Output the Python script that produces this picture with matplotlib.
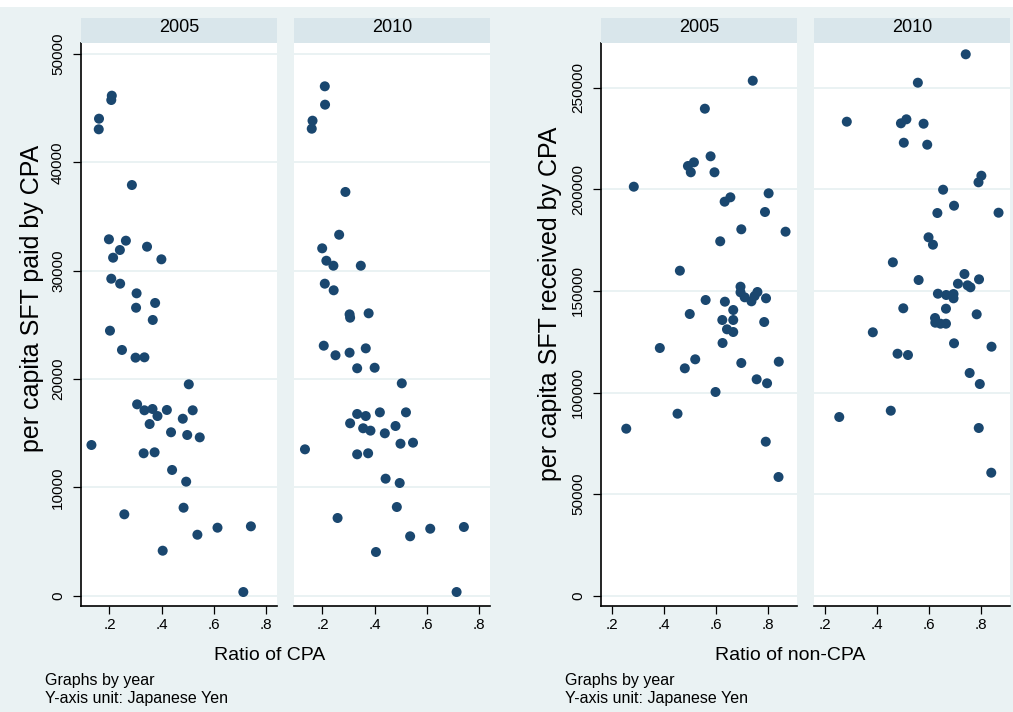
import matplotlib.pyplot as plt
from matplotlib.patches import Rectangle

plt.rcParams['font.family'] = ['Liberation Sans', 'DejaVu Sans']

W, H = 1013, 712

years = ['2005', '2010']

# per capita SFT paid by CPA vs ratio of CPA
cpa_ratio_2005 = [0.209, 0.207, 0.160, 0.159, 0.286, 0.198, 0.263, 0.240, 0.344, 0.214,
                  0.399, 0.207, 0.241, 0.304, 0.375, 0.302, 0.366, 0.202, 0.248, 0.300,
                  0.334, 0.504, 0.306, 0.334, 0.365, 0.384, 0.420, 0.481, 0.519, 0.354,
                  0.436, 0.498, 0.546, 0.131, 0.331, 0.373, 0.440, 0.494, 0.484, 0.257,
                  0.537, 0.614, 0.742, 0.404, 0.713]
paid_2005 = [46170, 45770, 44045, 43065, 37920, 32910, 32780, 31920, 32225, 31210,
             31060, 29270, 28810, 27920, 27030, 26590, 25460, 24470, 22690, 21980,
             22010, 19520, 17670, 17120, 17240, 16590, 17150, 16340, 17120, 15850,
             15090, 14840, 14620, 13915, 13150, 13240, 11610, 10530, 8125, 7515,
             5630, 6280, 6405, 4155, 340]

cpa_ratio_2010 = [0.209, 0.210, 0.162, 0.159, 0.288, 0.264, 0.199, 0.215, 0.242, 0.347,
                  0.209, 0.243, 0.304, 0.306, 0.377, 0.205, 0.250, 0.304, 0.366, 0.333,
                  0.400, 0.504, 0.333, 0.366, 0.420, 0.520, 0.306, 0.356, 0.384, 0.439,
                  0.480, 0.499, 0.547, 0.133, 0.333, 0.375, 0.442, 0.496, 0.485, 0.258,
                  0.536, 0.613, 0.742, 0.405, 0.714]
paid_2010 = [47035, 45340, 43860, 43120, 37280, 33330, 32075, 30930, 30470, 30470,
             28810, 28200, 25980, 25670, 26075, 23085, 22200, 22440, 22840, 21000,
             21050, 19610, 16780, 16590, 16930, 16930, 15920, 15460, 15240, 14995,
             15670, 14035, 14130, 13515, 13055, 13150, 10805, 10405, 8190, 7175,
             5485, 6185, 6345, 4035, 340]

# per capita SFT received by CPA vs ratio of non-CPA
noncpa_ratio_2005 = [0.741, 0.557, 0.579, 0.492, 0.515, 0.503, 0.594, 0.284, 0.802, 0.633,
                     0.655, 0.788, 0.697, 0.867, 0.616, 0.461, 0.694, 0.694, 0.710, 0.736,
                     0.759, 0.748, 0.792, 0.560, 0.634, 0.499, 0.666, 0.624, 0.666, 0.785,
                     0.642, 0.666, 0.625, 0.384, 0.520, 0.480, 0.697, 0.841, 0.756, 0.796,
                     0.598, 0.452, 0.255, 0.791, 0.840]
received_2005 = [253440, 239665, 216240, 211470, 213290, 208370, 208370, 201280, 198030, 193900,
                 196060, 188830, 180315, 179140, 174410, 159940, 152070, 149300, 146850, 144880,
                 149460, 147490, 146360, 145520, 144690, 138630, 140600, 135680, 135680, 134690,
                 131100, 129770, 124360, 121900, 116330, 111900, 114520, 115160, 106500, 104530,
                 100250, 89570, 82190, 75790, 58420]

noncpa_ratio_2010 = [0.741, 0.557, 0.284, 0.492, 0.513, 0.579, 0.503, 0.593, 0.801, 0.790,
                     0.654, 0.696, 0.632, 0.867, 0.598, 0.615, 0.461, 0.736, 0.560, 0.711,
                     0.748, 0.759, 0.792, 0.634, 0.666, 0.694, 0.694, 0.501, 0.665, 0.783,
                     0.623, 0.624, 0.644, 0.665, 0.384, 0.696, 0.479, 0.519, 0.840, 0.756,
                     0.795, 0.453, 0.255, 0.791, 0.839]
received_2010 = [266440, 252460, 233270, 232480, 234450, 232280, 222930, 221950, 206690, 203440,
                 199800, 191930, 188330, 188480, 176380, 172740, 164070, 158310, 155360, 153540,
                 152750, 151770, 155700, 148620, 147980, 148470, 146350, 141440, 141240, 138480,
                 136660, 134350, 133860, 133860, 129630, 124210, 119090, 118450, 122540, 109600,
                 104180, 91040, 87940, 82530, 60530]

x_ticks = [0.2, 0.4, 0.6, 0.8]
x_tick_labels = ['.2', '.4', '.6', '.8']
paid_ticks = [0, 10000, 20000, 30000, 40000, 50000]
received_ticks = [0, 50000, 100000, 150000, 200000, 250000]

navy = '#1A476F'
bg = '#EAF2F3'
strip = '#D9E6EB'


def box(l, t, r, b):
    return [l / W, 1 - b / H, (r - l) / W, (b - t) / H]


fig = plt.figure(figsize=(W / 100, H / 100), dpi=100)
fig.patches.append(Rectangle((0, 0), 1, 1 - 7 / H, transform=fig.transFigure,
                             facecolor=bg, edgecolor='none', zorder=-10))

graphs = [
    dict(left=81, xs=[cpa_ratio_2005, cpa_ratio_2010], ys=[paid_2005, paid_2010],
         yticks=paid_ticks, ylim=(-951, 51034), xlim=(0.091, 0.842),
         ytitle='per capita SFT paid by CPA', xtitle='Ratio of CPA',
         ytitle_x=32, ytitle_y=298, xtitle_x=270),
    dict(left=601, xs=[noncpa_ratio_2005, noncpa_ratio_2010], ys=[received_2005, received_2010],
         yticks=received_ticks, ylim=(-5070, 272000), xlim=(0.158, 0.911),
         ytitle='per capita SFT received by CPA', xtitle='Ratio of non-CPA',
         ytitle_x=550, ytitle_y=304, xtitle_x=790),
]

for g in graphs:
    for k in range(2):
        l = g['left'] + k * 213
        r = l + 196
        ax = fig.add_axes(box(l, 43, r, 606))
        ax.set_facecolor('white')
        ax.scatter(g['xs'][k], g['ys'][k], s=52, color=navy, edgecolors='none', zorder=3)
        ax.set_xlim(*g['xlim'])
        ax.set_ylim(*g['ylim'])
        ax.set_xticks(x_ticks)
        ax.set_xticklabels(x_tick_labels)
        ax.set_yticks(g['yticks'])
        ax.set_yticklabels([str(v) for v in g['yticks']], rotation=90, va='center')
        ax.grid(axis='y', color=bg, linewidth=1.4)
        ax.set_axisbelow(True)
        for side in ['top', 'right']:
            ax.spines[side].set_visible(False)
        ax.spines['bottom'].set_linewidth(1.2)
        ax.spines['left'].set_linewidth(1.2)
        ax.tick_params(axis='x', length=5.5, width=0.9, pad=3, labelsize=11)
        if k == 0:
            ax.tick_params(axis='y', length=5.5, width=0.9, pad=6, labelsize=11)
        else:
            ax.spines['left'].set_visible(False)
            ax.tick_params(axis='y', left=False, labelleft=False)
        fig.patches.append(Rectangle((l / W, 1 - 43 / H), (r - l) / W, 25 / H,
                                     transform=fig.transFigure, facecolor=strip,
                                     edgecolor='none'))
        fig.text((l + r) / 2 / W, 1 - 28 / H, years[k], ha='center', va='center', fontsize=13)

    fig.text(g['ytitle_x'] / W, 1 - g['ytitle_y'] / H, g['ytitle'], rotation=90,
             ha='center', va='center', fontsize=18)
    fig.text(g['xtitle_x'] / W, 1 - 655 / H, g['xtitle'], ha='center', va='center', fontsize=14)
    fig.text((g['left'] - 36) / W, 1 - 680 / H, 'Graphs by year', ha='left', va='center',
             fontsize=11.5)
    fig.text((g['left'] - 36) / W, 1 - 699 / H, 'Y-axis unit: Japanese Yen', ha='left',
             va='center', fontsize=11.5)

fig.savefig('out.png', dpi=100)
